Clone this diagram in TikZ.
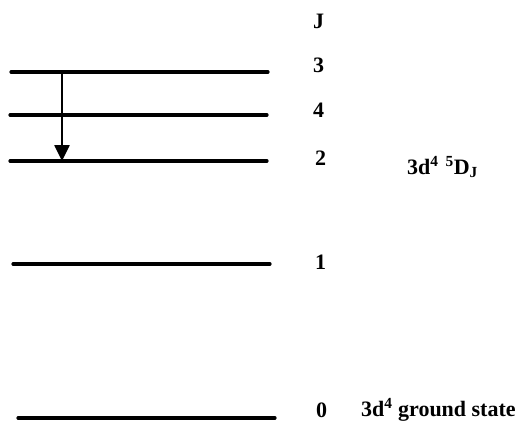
\documentclass[tikz,border=0pt]{standalone}
\usepackage{fontspec}
\setmainfont{Liberation Serif}
\usetikzlibrary{arrows.meta}

\tikzset{
  level/.style={line width=3.2pt, line cap=round},
  jlabel/.style={anchor=base west, inner sep=0pt, font=\fontsize{22}{26}\selectfont\bfseries},
}

\begin{document}
\begin{tikzpicture}[>={Triangle[width=15pt,length=16pt]}, x=1pt, y=-1pt]
  \useasboundingbox (0,0) rectangle (520,423);
  % Fine-structure levels of 3d^4 5D_J (left end, right end, height)
  \foreach \name/\xa/\xb/\y in {three/11/268/72, four/10/267/115, two/10/267/161,
                                one/13/270/264, zero/18/275/418} {
    \coordinate (\name-l) at (\xa,\y);
    \coordinate (\name-r) at (\xb,\y);
    \draw[level] (\name-l) -- (\name-r);
  }
  % J values
  \node[jlabel] (jhead) at (313,28) {J};
  \node[jlabel] (jthree) at (313,72) {3};
  \node[jlabel] (jfour) at (313,117) {4};
  \node[jlabel] (jtwo) at (315,165) {2};
  \node[jlabel] (jone) at (315,269) {1};
  \node[jlabel] (jzero) at (316,417) {0};
  % Term labels
  \node[jlabel] (term) at (407,174) {3d\textsuperscript{4}\hspace{7pt}\textsuperscript{5}D\textsubscript{J}};
  \node[jlabel] (ground) at (361,416) {3d\textsuperscript{4} ground state};
  % Transition J=3 -> J=2
  \coordinate (arr-top) at (62,72);
  \coordinate (arr-bot) at (62,161);
  \draw[->, line width=2.6pt] (arr-top) -- (arr-bot);
\end{tikzpicture}
\end{document}
